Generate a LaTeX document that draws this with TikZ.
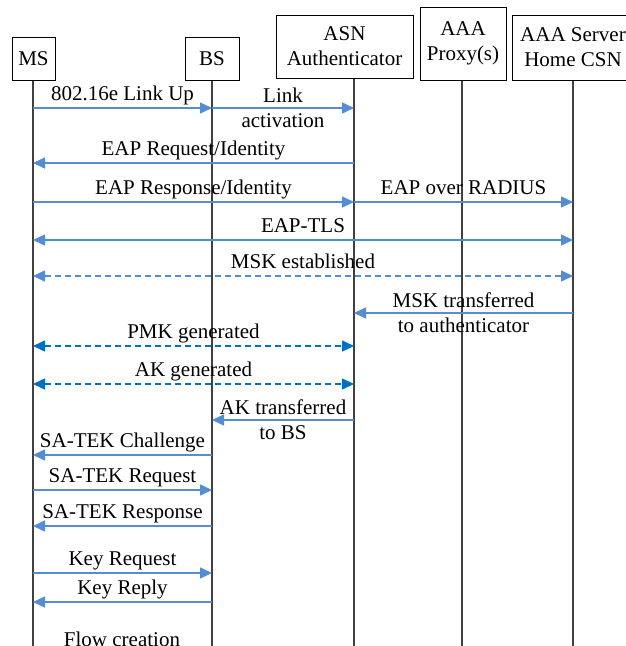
\documentclass[tikz,border=0pt]{standalone}
\usepackage{fontspec}
\setmainfont{Liberation Serif}
\usetikzlibrary{arrows.meta,positioning}
\definecolor{msgblue}{RGB}{84,141,212}
\definecolor{keyblue}{RGB}{0,112,192}

\begin{document}
\begin{tikzpicture}[
    x=1pt, y=-1pt,
    font=\fontsize{21}{25}\selectfont,
    entity/.style={rectangle, draw, line width=1pt, align=center, inner sep=2pt},
    lifeline/.style={draw=black!75, line width=1.3pt},
    msg/.style={-{Triangle[length=12pt,width=11pt]}, msgblue, line width=1.5pt},
    twoway/.style={{Triangle[length=12pt,width=11pt]}-{Triangle[length=12pt,width=11pt]}, msgblue, line width=1.5pt},
    msgdash/.style={twoway, dash pattern=on 6pt off 4pt},
    keydash/.style={msgdash, keyblue},
    lbl/.style={above, inner sep=1.5pt, text depth=5pt, text=black},
    twoline/.style={align=center, inner sep=0pt, text=black}
]
\useasboundingbox (0,0) rectangle (626,646);

% Entities
\node[entity, minimum width=43pt, minimum height=43pt] (ms) at (33.5,58.5) {MS};
\node[entity, minimum width=54pt, minimum height=43pt] (bs) at (212,58.5) {BS};
\node[entity, minimum width=137pt, minimum height=63pt] (asn) at (344.5,46.5) {ASN\\Authenticator};
\node[entity, minimum width=86pt, minimum height=73pt] (proxy) at (463,43.5) {AAA\\Proxy(s)};
\node[entity, minimum width=122pt, minimum height=65pt] (aaa) at (573,47.5) {AAA Server\\Home CSN};

% Lifelines
\coordinate (msL) at (33,0);
\coordinate (bsL) at (212,0);
\coordinate (asnL) at (354,0);
\coordinate (proxyL) at (462,0);
\coordinate (aaaL) at (573,0);
\coordinate (bottom) at (0,646);
\draw[lifeline] (ms.south -| msL) -- (msL |- bottom);
\draw[lifeline] (bs.south -| bsL) -- (bsL |- bottom);
\draw[lifeline] (asn.south -| asnL) -- (asnL |- bottom);
\draw[lifeline] (proxy.south -| proxyL) -- (proxyL |- bottom);
\draw[lifeline] (aaa.south -| aaaL) -- (aaaL |- bottom);

% Message rows
\foreach \row/\y in {linkup/108, eapreq/163, eapresp/202, tls/240, mskest/276,
    msktr/313, pmk/346, akgen/384, aktr/420, chall/455, satreq/490,
    satresp/526, keyreq/573, keyrep/602}
    \coordinate (\row) at (0,\y);

% Link activation
\draw[msg] (msL |- linkup) -- node[lbl] {802.16e Link Up} (bsL |- linkup);
\draw[msg] (bsL |- linkup) -- node[twoline] {Link\\activation} (asnL |- linkup);

% EAP authentication
\draw[msg] (asnL |- eapreq) -- node[lbl] {EAP Request/Identity} (msL |- eapreq);
\draw[msg] (msL |- eapresp) -- node[lbl] {EAP Response/Identity} (asnL |- eapresp);
\draw[msg] (asnL |- eapresp) -- node[lbl] {EAP over RADIUS} (aaaL |- eapresp);
\draw[twoway] (msL |- tls) -- node[lbl] {EAP-TLS} (aaaL |- tls);
\draw[msgdash] (msL |- mskest) -- node[lbl] {MSK established} (aaaL |- mskest);
\draw[msg] (aaaL |- msktr) -- node[twoline] {MSK transferred\\to authenticator} (asnL |- msktr);

% Key derivation
\draw[keydash] (msL |- pmk) -- node[lbl] {PMK generated} (asnL |- pmk);
\draw[keydash] (msL |- akgen) -- node[lbl] {AK generated} (asnL |- akgen);
\draw[msg] (asnL |- aktr) -- node[twoline] {AK transferred\\to BS} (bsL |- aktr);

% SA-TEK handshake
\draw[msg] (bsL |- chall) -- node[lbl] {SA-TEK Challenge} (msL |- chall);
\draw[msg] (msL |- satreq) -- node[lbl] {SA-TEK Request} (bsL |- satreq);
\draw[msg] (bsL |- satresp) -- node[lbl] {SA-TEK Response} (msL |- satresp);

% Keys
\draw[msg] (msL |- keyreq) -- node[lbl] {Key Request} (bsL |- keyreq);
\draw[msg] (bsL |- keyrep) -- node[lbl] {Key Reply} (msL |- keyrep);

\node (flow) at (122,639) {Flow creation};

\end{tikzpicture}
\end{document}
